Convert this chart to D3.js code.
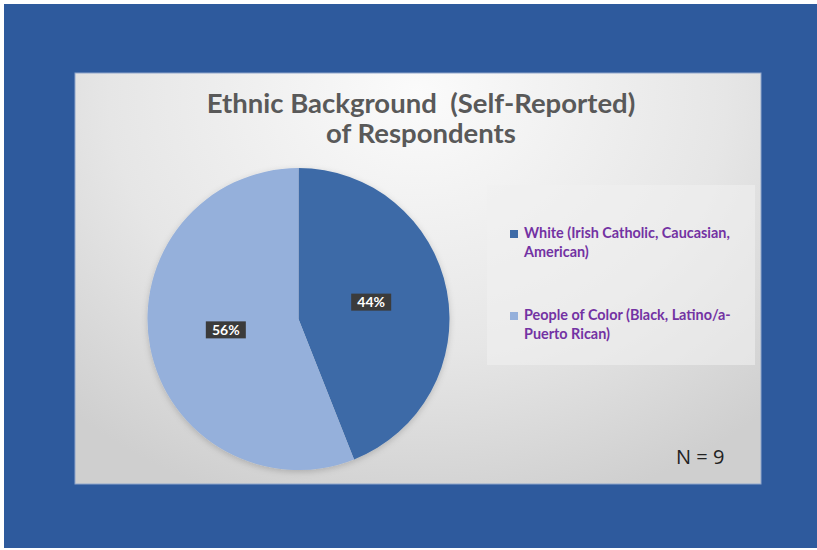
<!DOCTYPE html>
<html><head><meta charset="utf-8">
<script src="https://cdn.jsdelivr.net/npm/d3@7"></script>
<style>html,body{margin:0;padding:0;background:#fff;}svg{display:block;}</style>
</head><body>
<script>
const categories = ["White (Irish Catholic, Caucasian, American)", "People of Color (Black, Latino/a-Puerto Rican)"];
const legendLines = [["White (Irish Catholic, Caucasian,", "American)"], ["People of Color (Black, Latino/a-", "Puerto Rican)"]];
const values = [44, 56];
const colors = ["#3E6BA7", "#95B0DB"];
const titleLines = ["Ethnic Background  (Self-Reported)", "of Respondents"];
const note = "N = 9";

const W = 817, H = 550;
const svg = d3.select("body").append("svg").attr("width", W).attr("height", H);
const defs = svg.append("defs");
const g1 = defs.append("radialGradient").attr("id","pg").attr("cx","0.5").attr("cy","0.05").attr("r","0.75")
  .attr("gradientTransform","translate(0.5,0.05) scale(1,1.4) translate(-0.5,-0.05)");
g1.append("stop").attr("offset","0").attr("stop-color","#fbfbfb");
g1.append("stop").attr("offset","0.6").attr("stop-color","#e6e6e6");
g1.append("stop").attr("offset","1").attr("stop-color","#cfcfcf");
const sh = defs.append("filter").attr("id","sh").attr("x","-20%").attr("y","-20%").attr("width","140%").attr("height","140%");
sh.append("feDropShadow").attr("dx",0).attr("dy",2).attr("stdDeviation",3).attr("flood-color","#000").attr("flood-opacity",0.18);

// white margin then blue frame
svg.append("rect").attr("x",4).attr("y",4).attr("width",W-4).attr("height",544).attr("fill","#2E5A9D");
// panel
svg.append("rect").attr("x",75).attr("y",73).attr("width",686).attr("height",411).attr("fill","url(#pg)")
  .attr("stroke","#8fa6cc").attr("stroke-width",1);

// title
svg.append("g").selectAll("text").data(titleLines).join("text")
  .attr("x",421).attr("y",(d,i)=>113+i*30).attr("text-anchor","middle")
  .attr("font-family","Lato, 'Open Sans', sans-serif").attr("font-weight","bold").attr("font-size",27.5)
  .attr("fill","#595959").style("white-space","pre").text(d=>d);

// legend box
svg.append("rect").attr("x",487).attr("y",185).attr("width",268).attr("height",180).attr("fill","#f0f0f0").attr("opacity",0.6);

// pie
const cx = 298.5, cy = 319, r = 151;
const pie = d3.pie().sort(null).value(d=>d);
const arcs = pie(values);
const arc = d3.arc().innerRadius(0).outerRadius(r);
const labelArc = d3.arc().innerRadius(r*0.49).outerRadius(r*0.49);
const pg = svg.append("g").attr("transform",`translate(${cx},${cy})`);
pg.append("g").attr("filter","url(#sh)").selectAll("path").data(arcs).join("path").attr("d",arc).attr("fill",(d,i)=>colors[i]);

const lab = pg.selectAll("g.lab").data(arcs).join("g").attr("class","lab")
  .attr("transform",d=>{const c=labelArc.centroid(d);return `translate(${c[0]},${c[1]-3})`;});
lab.append("rect").attr("x",-20).attr("y",-8.5).attr("width",40).attr("height",17).attr("fill","#3b3b3b");
lab.append("text").attr("text-anchor","middle").attr("dy","0.36em")
  .attr("font-family","Lato, sans-serif").attr("font-weight","bold").attr("font-size",14).attr("fill","#fff")
  .text(d=>d.data+"%");

// legend
const lg = svg.append("g").selectAll("g").data(categories).join("g")
  .attr("transform",(d,i)=>`translate(510,${238+i*82})`);
lg.append("rect").attr("x",0).attr("y",-8).attr("width",8).attr("height",8).attr("fill",(d,i)=>colors[i]);
lg.each(function(d,i){
  d3.select(this).selectAll("text").data(legendLines[i]).join("text")
    .attr("x",14).attr("y",(t,j)=>j*19)
    .attr("font-family","Lato, sans-serif").attr("font-weight","bold").attr("font-size",14.4)
    .attr("fill","#7332A3").text(t=>t);
});

// note
svg.append("text").attr("x",676).attr("y",464).attr("font-family","'Open Sans', sans-serif")
  .attr("font-size",20).attr("fill","#222").text(note);
</script>
</body></html>
